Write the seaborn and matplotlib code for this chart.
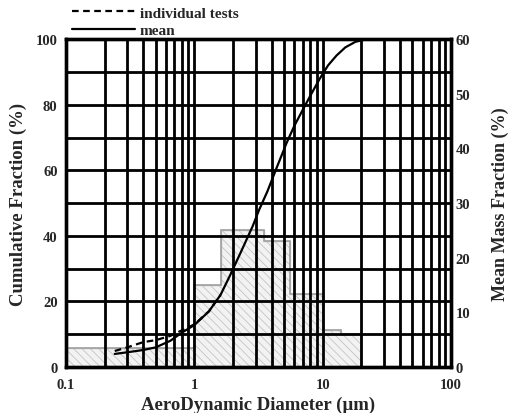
import matplotlib
matplotlib.use("Agg")
import matplotlib.pyplot as plt
import numpy as np
import pandas as pd
import seaborn as sns
from matplotlib.ticker import FixedLocator, NullFormatter

# cumulative curves (left axis, %)
mean_d = [0.24, 0.3, 0.4, 0.5, 0.65, 0.8, 1.0, 1.3, 1.6, 1.9, 2.3, 2.85, 3.2, 3.7, 4.4, 5.25, 6.0, 7.0, 8.2, 9.5, 11.0, 12.8, 15.0, 18.0, 21.0, 25.0]
mean_cum = [4.0, 4.5, 5.2, 6.0, 8.0, 10.5, 12.8, 17.0, 22.0, 28.0, 35.0, 43.0, 48.0, 53.5, 61.0, 68.5, 73.5, 78.5, 83.5, 88.0, 92.0, 95.0, 97.5, 99.2, 99.8, 100.0]
ind_d = [0.24, 0.3, 0.4, 0.5, 0.65, 0.8, 1.0, 1.3, 1.6]
ind_cum = [4.9, 6.0, 7.6, 8.2, 9.5, 11.2, 13.0, 17.0, 22.0]

# mean mass fraction histogram (right axis, %)
bin_edges = [0.1, 1.0, 1.6, 3.5, 5.6, 10.0, 14.0, 20.0]
mass_frac = [3.5, 15.0, 25.0, 23.0, 13.3, 6.8, 6.0]

sns.set_style("white")
plt.rcParams["font.family"] = ["Liberation Serif", "DejaVu Serif"]
plt.rcParams["font.weight"] = "bold"
plt.rcParams["hatch.linewidth"] = 0.6

fig, ax = plt.subplots(figsize=(5.15, 4.14), dpi=100)
fig.subplots_adjust(left=0.128, right=0.876, top=0.903, bottom=0.111)
ax2 = ax.twinx()

# histogram behind the grid
ax2.stairs(mass_frac, bin_edges, fill=True, facecolor="#f2f2f2",
           edgecolor="#c4c4c4", hatch="\\\\\\\\", linewidth=1.0)
ax2.stairs(mass_frac, bin_edges, fill=False, edgecolor="#a0a0a0", linewidth=1.2)
ax2.set_ylim(0, 60)
ax2.set_yticks(np.arange(0, 61, 10))
ax2.set_ylabel("Mean Mass Fraction (%)", fontsize=13, fontweight="bold", labelpad=16)

ax.set_zorder(ax2.get_zorder() + 1)
ax.patch.set_visible(False)

df_mean = pd.DataFrame({"d": mean_d, "cum": mean_cum})
df_ind = pd.DataFrame({"d": ind_d, "cum": ind_cum})
sns.lineplot(data=df_ind, x="d", y="cum", ax=ax, color="black", linewidth=1.6,
             linestyle=(0, (3, 2)), label="individual tests")
sns.lineplot(data=df_mean, x="d", y="cum", ax=ax, color="black", linewidth=1.6,
             label="mean")

ax.set_xscale("log")
ax.set_xlim(0.1, 100)
ax.set_ylim(0, 100)
ax.set_xticks([0.1, 1, 10, 100])
ax.set_xticklabels(["0.1", "1", "10", "100"])
minor = [m * 10.0 ** e for e in (-1, 0, 1) for m in range(2, 10)]
ax.xaxis.set_minor_locator(FixedLocator(minor))
ax.xaxis.set_minor_formatter(NullFormatter())
ax.set_yticks(np.arange(0, 101, 20))
ax.yaxis.set_minor_locator(FixedLocator(np.arange(10, 100, 20)))

ax.grid(True, which="both", color="black", linewidth=2.0)
for a in (ax, ax2):
    for s in a.spines.values():
        s.set_linewidth(2.4)
        s.set_color("black")
    a.tick_params(which="both", length=0, labelsize=10.5, pad=3)
    for t in a.get_xticklabels() + a.get_yticklabels():
        t.set_fontweight("bold")
ax.tick_params(axis="x", pad=8)
ax.tick_params(axis="y", pad=6)

ax.set_xlabel("AeroDynamic Diameter (\u00b5m)", fontsize=13.5, fontweight="bold", labelpad=3)
ax.set_ylabel("Cumulative Fraction (%)", fontsize=13.5, fontweight="bold", labelpad=6)

ax.legend(loc="upper left", bbox_to_anchor=(72 / 515, 1 - 7 / 414),
          bbox_transform=fig.transFigure, frameon=False,
          handlelength=4.1, handletextpad=0.35, borderpad=0,
          labelspacing=0.25, borderaxespad=0,
          prop={"weight": "bold", "size": 11})

fig.savefig("out.png", dpi=100)
